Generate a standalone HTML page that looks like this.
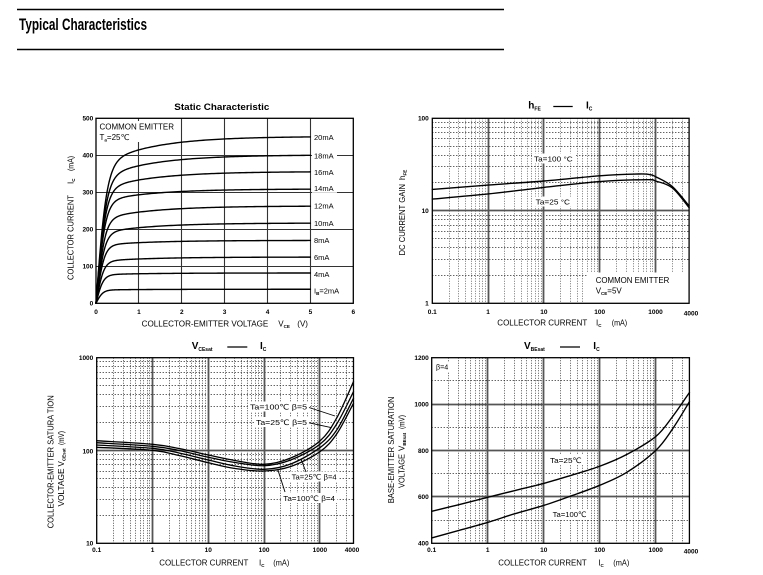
<!DOCTYPE html>
<html><head><meta charset="utf-8">
<style>
html,body{margin:0;padding:0;background:#fff;}
svg{display:block;}
text{font-family:"Liberation Sans","DejaVu Sans","Noto Sans CJK SC",sans-serif;fill:#000;}
.b{font-weight:bold;}
.t{font-size:6.5px;font-weight:bold;}
.a{font-size:8px;}
.l{font-size:7.5px;}
</style></head><body>
<svg id="s" width="763" height="575" viewBox="0 0 763 575" xmlns="http://www.w3.org/2000/svg">
<rect x="0" y="0" width="763" height="575" fill="#fff"/>
<line x1="17" y1="9.5" x2="504" y2="9.5" stroke="#000" stroke-width="1.4"/>
<text x="19" y="30" class="b" font-size="17" textLength="128" lengthAdjust="spacingAndGlyphs">Typical Characteristics</text>
<line x1="17" y1="49.5" x2="504" y2="49.5" stroke="#000" stroke-width="1.4"/>
<g id="g"></g>

<!-- Chart 1 text -->
<text x="174.3" y="110" class="b" font-size="9.5" textLength="95" lengthAdjust="spacingAndGlyphs">Static Characteristic</text>
<g class="t" text-anchor="end">
<text x="93.3" y="120.6">500</text><text x="93.3" y="157.6">400</text><text x="93.3" y="194.6">300</text>
<text x="93.3" y="231.6">200</text><text x="93.3" y="268.6">100</text><text x="93.3" y="305.6">0</text>
</g>
<g class="t" text-anchor="middle">
<text x="96" y="313.8">0</text><text x="138.9" y="313.8">1</text><text x="181.8" y="313.8">2</text>
<text x="224.6" y="313.8">3</text><text x="267.5" y="313.8">4</text><text x="310.4" y="313.8">5</text><text x="353.3" y="313.8">6</text>
</g>
<text x="141.7" y="326.5" class="a" textLength="126.6" lengthAdjust="spacingAndGlyphs">COLLECTOR-EMITTER VOLTAGE</text>
<text x="278.3" y="326.5" class="a">V<tspan font-size="4.5" dy="1.5" class="b">CE</tspan></text>
<text x="297.3" y="326.5" class="a">(V)</text>
<text x="73.5" y="280" class="a" transform="rotate(-90 73.5 280)" textLength="85" lengthAdjust="spacingAndGlyphs">COLLECTOR CURRENT</text>
<text x="73.5" y="184" class="a" transform="rotate(-90 73.5 184)">I<tspan font-size="4.5" dy="1.5" class="b">C</tspan></text>
<text x="73.5" y="171" class="a" transform="rotate(-90 73.5 171)" textLength="15" lengthAdjust="spacingAndGlyphs">(mA)</text>
<text x="99.5" y="129.5" class="a" textLength="74.5" lengthAdjust="spacingAndGlyphs">COMMON EMITTER</text>
<text x="99.5" y="140" class="a">T<tspan font-size="4.5" dy="1.5" class="b">a</tspan><tspan dy="-1.5">=25℃</tspan></text>
<g class="l">
<text x="314" y="140.2">20mA</text><text x="314" y="158.5">18mA</text><text x="314" y="175.2">16mA</text>
<text x="314" y="190.8">14mA</text><text x="314" y="208.5">12mA</text><text x="314" y="225.8">10mA</text>
<text x="314" y="243.2">8mA</text><text x="314" y="260.2">6mA</text><text x="314" y="276.8">4mA</text>
<text x="314" y="293.5">I<tspan font-size="4.5" dy="1.5" class="b">B</tspan><tspan dy="-1.5">=2mA</tspan></text>
</g>

<!-- Chart 2 text -->
<text x="528.3" y="108.3" class="b" font-size="10">h<tspan font-size="5" dy="2">FE</tspan></text>
<line x1="553.3" y1="106.5" x2="572.7" y2="106.5" stroke="#000" stroke-width="1.2"/>
<text x="586" y="108.3" class="b" font-size="10">I<tspan font-size="5" dy="2">C</tspan></text>
<g class="t" text-anchor="end">
<text x="428.8" y="120.6">100</text><text x="428.8" y="213.1">10</text><text x="428.8" y="305.6">1</text>
</g>
<g class="t" text-anchor="middle">
<text x="432.3" y="313.8">0.1</text><text x="488.1" y="313.8">1</text><text x="543.9" y="313.8">10</text>
<text x="599.7" y="313.8">100</text><text x="655.5" y="313.8">1000</text><text x="691" y="315.5">4000</text>
</g>
<text x="497.3" y="325.7" class="a" textLength="90" lengthAdjust="spacingAndGlyphs">COLLECTOR CURRENT</text>
<text x="596" y="325.7" class="a">I<tspan font-size="4.5" dy="1.5" class="b">C</tspan></text>
<text x="611.7" y="325.7" class="a" textLength="15.5" lengthAdjust="spacingAndGlyphs">(mA)</text>
<text x="405" y="255.5" class="a" transform="rotate(-90 405 255.5)" textLength="71.5" lengthAdjust="spacingAndGlyphs">DC CURRENT GAIN</text>
<text x="405" y="180" class="a" transform="rotate(-90 405 180)">h<tspan font-size="4.5" dy="1.5" class="b">FE</tspan></text>
<text x="534" y="161.5" class="l" textLength="38.7" lengthAdjust="spacingAndGlyphs">Ta=100 °C</text>
<text x="535.7" y="204.5" class="l" textLength="34.3" lengthAdjust="spacingAndGlyphs">Ta=25 °C</text>
<text x="595.7" y="283" class="a" textLength="73.6" lengthAdjust="spacingAndGlyphs">COMMON EMITTER</text>
<text x="595.7" y="293.5" class="a">V<tspan font-size="4.5" dy="1.5" class="b">CE</tspan><tspan dy="-1.5">=5V</tspan></text>

<!-- Chart 3 text -->
<text x="191.7" y="349" class="b" font-size="10">V<tspan font-size="5" dy="2">CEsat</tspan></text>
<line x1="227.3" y1="347" x2="247.3" y2="347" stroke="#000" stroke-width="1.2"/>
<text x="260" y="349" class="b" font-size="10">I<tspan font-size="5" dy="2">C</tspan></text>
<g class="t" text-anchor="end">
<text x="93.3" y="360">1000</text><text x="93.3" y="453.3">100</text><text x="93.3" y="545.6">10</text>
</g>
<g class="t" text-anchor="middle">
<text x="96.7" y="551.8">0.1</text><text x="152.5" y="551.8">1</text><text x="208.3" y="551.8">10</text>
<text x="264.1" y="551.8">100</text><text x="319.9" y="551.8">1000</text><text x="352" y="551.8">4000</text>
</g>
<text x="159.3" y="565.7" class="a" textLength="89" lengthAdjust="spacingAndGlyphs">COLLECTOR CURRENT</text>
<text x="259" y="565.7" class="a">I<tspan font-size="4.5" dy="1.5" class="b">C</tspan></text>
<text x="273.3" y="565.7" class="a" textLength="16" lengthAdjust="spacingAndGlyphs">(mA)</text>
<text x="53.3" y="528.3" class="a" transform="rotate(-90 53.3 528.3)" textLength="133" lengthAdjust="spacingAndGlyphs">COLLECTOR-EMITTER SATURA TION</text>
<text x="64" y="506.5" class="a" transform="rotate(-90 64 506.5)" textLength="38" lengthAdjust="spacingAndGlyphs">VOLTAGE</text>
<text x="64" y="466.5" class="a" transform="rotate(-90 64 466.5)">V<tspan font-size="4.5" dy="1.5" class="b">CEsat</tspan></text>
<text x="64" y="445" class="a" transform="rotate(-90 64 445)" textLength="14" lengthAdjust="spacingAndGlyphs">(mV)</text>

<!-- Chart 4 text -->
<text x="524" y="349" class="b" font-size="10">V<tspan font-size="5" dy="2">BEsat</tspan></text>
<line x1="560" y1="347" x2="580" y2="347" stroke="#000" stroke-width="1.2"/>
<text x="593.3" y="349" class="b" font-size="10">I<tspan font-size="5" dy="2">C</tspan></text>
<g class="t" text-anchor="end">
<text x="428.8" y="360">1200</text><text x="428.8" y="406.4">1000</text><text x="428.8" y="452.8">800</text>
<text x="428.8" y="499.2">600</text><text x="428.8" y="545.6">400</text>
</g>
<g class="t" text-anchor="middle">
<text x="431.7" y="551.8">0.1</text><text x="487.7" y="551.8">1</text><text x="543.7" y="551.8">10</text>
<text x="599.7" y="551.8">100</text><text x="655.7" y="551.8">1000</text><text x="691" y="553.3">4000</text>
</g>
<text x="498.3" y="565.7" class="a" textLength="88.4" lengthAdjust="spacingAndGlyphs">COLLECTOR CURRENT</text>
<text x="598.3" y="565.7" class="a">I<tspan font-size="4.5" dy="1.5" class="b">C</tspan></text>
<text x="613.3" y="565.7" class="a" textLength="16" lengthAdjust="spacingAndGlyphs">(mA)</text>
<text x="394" y="503.3" class="a" transform="rotate(-90 394 503.3)" textLength="106.7" lengthAdjust="spacingAndGlyphs">BASE-EMITTER SATURATION</text>
<text x="404.5" y="488" class="a" transform="rotate(-90 404.5 488)" textLength="34" lengthAdjust="spacingAndGlyphs">VOLTAGE</text>
<text x="404.5" y="451" class="a" transform="rotate(-90 404.5 451)">V<tspan font-size="4.5" dy="1.5" class="b">BEsat</tspan></text>
<text x="404.5" y="429" class="a" transform="rotate(-90 404.5 429)" textLength="14" lengthAdjust="spacingAndGlyphs">(mV)</text>
<text x="436" y="369.5" class="l" textLength="12.3" lengthAdjust="spacingAndGlyphs">β=4</text>
<text x="550" y="463" class="l" textLength="31.7" lengthAdjust="spacingAndGlyphs">Ta=25℃</text>
<text x="552.7" y="517" class="l" textLength="34" lengthAdjust="spacingAndGlyphs">Ta=100℃</text>

<!-- Chart 3 labels -->
<text x="250" y="409.5" class="l" textLength="57" lengthAdjust="spacingAndGlyphs">Ta=100℃ β=5</text>
<text x="256" y="425" class="l" textLength="51" lengthAdjust="spacingAndGlyphs">Ta=25℃ β=5</text>
<text x="291.7" y="479.5" class="l" textLength="45" lengthAdjust="spacingAndGlyphs">Ta=25℃ β=4</text>
<text x="283.3" y="501" class="l" textLength="51.7" lengthAdjust="spacingAndGlyphs">Ta=100℃ β=4</text>
</svg>
<script>
(function(){
const NS="http://www.w3.org/2000/svg";
const G=document.getElementById('g');
function el(t,a){const e=document.createElementNS(NS,t);for(const k in a)e.setAttribute(k,a[k]);G.appendChild(e);return e;}
function line(x1,y1,x2,y2,st,w,da){const a={x1:x1,y1:y1,x2:x2,y2:y2,stroke:st,'stroke-width':w};if(da)a['stroke-dasharray']=da;el('line',a);}
function px(v){return Math.round(v-0.5)+0.5;}
function spline(pts){
  let d='M'+pts[0][0].toFixed(2)+','+pts[0][1].toFixed(2);
  for(let i=0;i<pts.length-1;i++){
    const p0=pts[i-1]||pts[i],p1=pts[i],p2=pts[i+1],p3=pts[i+2]||p2;
    const c1=[p1[0]+(p2[0]-p0[0])/6,p1[1]+(p2[1]-p0[1])/6],c2=[p2[0]-(p3[0]-p1[0])/6,p2[1]-(p3[1]-p1[1])/6];
    d+='C'+c1[0].toFixed(2)+','+c1[1].toFixed(2)+' '+c2[0].toFixed(2)+','+c2[1].toFixed(2)+' '+p2[0].toFixed(2)+','+p2[1].toFixed(2);
  }
  return d;
}
function path(d,w){el('path',{d:d,fill:'none',stroke:'#000','stroke-width':w||1.4,'stroke-linejoin':'round','stroke-linecap':'round'});}
function white(x,y,w,h){el('rect',{x:x,y:y,width:w,height:h,fill:'#fff'});}
function box(x1,y1,x2,y2){el('rect',{x:x1,y:y1,width:x2-x1,height:y2-y1,fill:'none',stroke:'#000','stroke-width':1.3});}

/* ---------- Chart 1 ---------- */
{
 const X0=96,XS=42.88,Y0=303.3,YS=0.37,T=118.3,R=353.3;
 for(let v=1;v<=5;v++){const x=px(X0+v*XS);line(x,T,x,Y0,'#333',1.1);}
 for(let i=100;i<=400;i+=100){const y=px(Y0-i*YS);line(X0,y,R,y,'#333',1.1);}
 const lb=[140.2,158.5,175.2,190.8,208.5,225.8,243.2,260.2,276.8,293.5];
 const lw=[22,22,22,22,22,22,18,18,18,26];
 lb.forEach((b,i)=>white(312,b-6.5,lw[i]+3,8.5));
 white(98,121,78,21);
 const P=[[368,83,.25],[334,67,.24],[304,52,.23],[273,36,.22],[225,38,.21],[188,29,.2],[156,14,.19],[113,12,.18],[77,5,.17],[36,2,.16]];
 P.forEach(p=>{
   let d='';
   for(let V=0;V<=5.0001;V+=(V<1?0.01:0.05)){
     const I=p[0]*Math.tanh(V/p[2])+p[1]*(1-Math.exp(-V/1.2));
     d+=(d?'L':'M')+(X0+V*XS).toFixed(2)+','+(Y0-I*YS).toFixed(2);
   }
   path(d,1.4);
 });
 box(X0,T,R,Y0);
}

function logGrid(x0,dec,T,B,xmax,hmin,hmaj,vcol){
  for(let e=-1;e<=3;e++){
    for(let k=2;k<=9;k++){
      const v=k*Math.pow(10,e); if(v>=xmax) break;
      const x=px(x0+(Math.log10(v)+1)*dec);
      line(x,T,x,B,vcol,1,'1 1.5');
    }
  }
  hmin.forEach(y=>line(x0,px(y),x0+(Math.log10(xmax)+1)*dec,px(y),'#222',1,'1 2'));
  for(let e=0;e<=3;e++){const x=px(x0+(e+1)*dec);line(x,T,x,B,'#555',1.8);}
  hmaj.forEach(y=>line(x0,px(y),x0+(Math.log10(xmax)+1)*dec,px(y),'#555',1.8));
}

/* ---------- Chart 2 ---------- */
{
 const x0=432.3,dec=55.8,T=118.3,B=303.3;
 const Y=v=>303.3-Math.log10(v)*92.5;
 const X=v=>x0+(Math.log10(v)+1)*dec;
 const hmin=[];
 [1,10].forEach(d=>{for(let k=2;k<=9;k++)hmin.push(Y(k*d));});
 logGrid(x0,dec,T,B,4000,hmin,[Y(10)],'#777');
 white(532,153.5,43,10);
 white(533.5,196.5,39,10);
 white(587,272.5,102,30.5);
 const a=[[0.1,17],[1,19],[10,21],[100,23.9],[500,25],[800,24.6],[1000,23.4],[2000,18.3],[4000,11.3]];
 const b=[[0.1,13.4],[1,15.2],[10,17.9],[100,20.7],[700,21.7],[1000,21],[2000,17.7],[4000,10.8]];
 path(spline(a.map(p=>[X(p[0]),Y(p[1])])),1.4);
 path(spline(b.map(p=>[X(p[0]),Y(p[1])])),1.4);
 box(x0,T,X(4000),B);
}

/* ---------- Chart 3 ---------- */
{
 const x0=96.7,dec=55.8,T=357.7,B=543.3;
 const Y=v=>543.3-(Math.log10(v)-1)*92.8;
 const X=v=>x0+(Math.log10(v)+1)*dec;
 const hmin=[];
 [10,100].forEach(d=>{for(let k=2;k<=9;k++)hmin.push(Y(k*d));});
 logGrid(x0,dec,T,B,4000,hmin,[Y(100)],'#555');
 white(248,401.5,62,10);
 white(254,417,55,10);
 white(289.7,471.5,49,10);
 white(281.3,493,56,10);
 const xs=[0.1,1,3,10,30,100,300,1000,2000,4000];
 const cs=[
  [440.7,444.3,448.5,455,460.5,464.3,458,441,418,381.7],
  [442.7,446.3,450.5,457.3,462.5,465.7,460,444.3,424,391.7],
  [445,448.3,453,460,466,469.3,464,447.7,430,398.3],
  [447.3,450.3,455.5,462.7,468.5,471,466.5,451.7,434,403.3]];
 cs.forEach(c=>path(spline(xs.map((v,i)=>[X(v),c[i]])),1.3));
 line(309,407.5,335,416,'#000',0.9);
 line(309,422.8,331.7,427.7,'#000',0.9);
 line(301,459.3,306,472,'#000',0.9);
 line(277.7,469.3,285,492,'#000',0.9);
 box(x0,T,X(4000),B);
}

/* ---------- Chart 4 ---------- */
{
 const x0=431.7,dec=56,T=357.7,B=543.3;
 const Y=v=>543.3-(v-400)*0.232;
 const X=v=>x0+(Math.log10(v)+1)*dec;
 logGrid(x0,dec,T,B,4000,[Y(500),Y(700),Y(900),Y(1100)],[Y(600),Y(800),Y(1000)],'#555');
 white(434,362,16,9.5);
 white(548,455,36,10);
 white(550.7,509,38,10);
 const a=[[0.1,538],[0.3,566],[1,598],[3,627],[10,658],[30,692],[100,732],[300,782],[1000,860],[2000,946],[4000,1050]];
 const b=[[0.1,423],[0.3,455],[1,490],[3,527],[10,563],[30,603],[100,650],[300,705],[1000,800],[2000,893],[4000,1010]];
 path(spline(a.map(p=>[X(p[0]),Y(p[1])])),1.4);
 path(spline(b.map(p=>[X(p[0]),Y(p[1])])),1.4);
 box(x0,T,X(4000),B);
}
})();
</script>
</body></html>
